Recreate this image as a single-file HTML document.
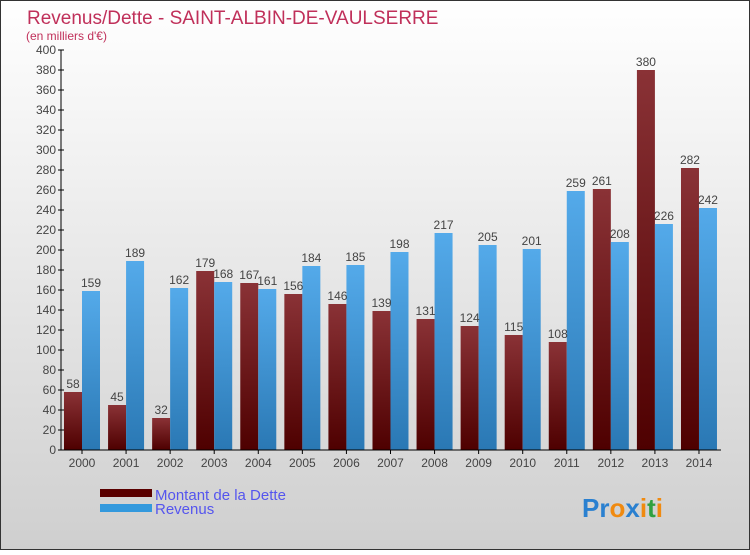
<!DOCTYPE html>
<html><head><meta charset="utf-8"><style>
body{margin:0;width:750px;height:550px;overflow:hidden;font-family:"Liberation Sans",sans-serif}
</style></head><body>
<svg width="750" height="550" xmlns="http://www.w3.org/2000/svg">
<defs>
<linearGradient id="bg" x1="0" y1="0" x2="0" y2="1"><stop offset="0" stop-color="#ffffff"/><stop offset="1" stop-color="#cfcfcf"/></linearGradient>
<linearGradient id="red" x1="0" y1="0" x2="0" y2="1"><stop offset="0" stop-color="#8a3236"/><stop offset="1" stop-color="#4e0000"/></linearGradient>
<linearGradient id="blue" x1="0" y1="0" x2="0" y2="1"><stop offset="0" stop-color="#54aaea"/><stop offset="1" stop-color="#2a78b4"/></linearGradient>
</defs>
<rect x="0.5" y="0.5" width="749" height="549" fill="url(#bg)" stroke="#333"/>
<text x="27" y="24" font-size="19" fill="#c0305a">Revenus/Dette - SAINT-ALBIN-DE-VAULSERRE</text>
<text x="26" y="40" font-size="12" fill="#c0305a">(en milliers d'€)</text>
<g id="grid"></g>
<g id="bars"></g>
<g id="axes"></g>
<g>
<rect x="100" y="489" width="52" height="8" fill="#5a0000"/>
<text x="155" y="500" font-size="15" fill="#5555ee">Montant de la Dette</text>
<rect x="100" y="504" width="52" height="8" fill="#3399dd"/>
<text x="155" y="514" font-size="15" fill="#5555ee">Revenus</text>
</g>
<text x="582" y="517" font-size="26" font-weight="bold"><tspan fill="#2a80d0">Pr</tspan><tspan fill="#f08a10">o</tspan><tspan fill="#2a80d0">x</tspan><tspan fill="#f08a10">i</tspan><tspan fill="#30a040">t</tspan><tspan fill="#f08a10">i</tspan></text>
</svg>
<script>
const years=["2000","2001","2002","2003","2004","2005","2006","2007","2008","2009","2010","2011","2012","2013","2014"];
const dette=[58,45,32,179,167,156,146,139,131,124,115,108,261,380,282];
const revenus=[159,189,162,168,161,184,185,198,217,205,201,259,208,226,242];
const yTicks=[0,20,40,60,80,100,120,140,160,180,200,220,240,260,280,300,320,340,360,380,400];
const NS="http://www.w3.org/2000/svg";
const y0=450,yMax=400,plotH=400;
function yS(v){return y0-v/yMax*plotH;}
function xC(i){return 82+i*44.07;}
function mk(t,a,p){const e=document.createElementNS(NS,t);for(const k in a)e.setAttribute(k,a[k]);p.appendChild(e);return e;}
const axes=document.getElementById('axes'),bars=document.getElementById('bars');
const ax=mk('line',{x1:61,y1:50,x2:61,y2:450,stroke:'#000'},axes);


const bx=mk('line',{x1:61,y1:450,x2:721,y2:450,stroke:'#000'},axes);


yTicks.forEach(v=>{
 const y=yS(v);
 mk('line',{x1:58,y1:y,x2:64,y2:y,stroke:'#000'},axes);
 const t=mk('text',{x:56,y:y+4,'font-size':12,fill:'#444','text-anchor':'end'},axes);t.textContent=v;
 
 
});
years.forEach((yr,i)=>{
 const c=xC(i);
 mk('line',{x1:c,y1:450,x2:c,y2:454,stroke:'#000'},axes);
 const t=mk('text',{x:c,y:467,'font-size':12,fill:'#444','text-anchor':'middle'},axes);t.textContent=yr;
 
 
 const r1=mk('rect',{x:c-18,y:yS(dette[i]),width:18,height:y0-yS(dette[i]),fill:'url(#red)'},bars);
 
 
 const r2=mk('rect',{x:c,y:yS(revenus[i]),width:18,height:y0-yS(revenus[i]),fill:'url(#blue)'},bars);
 
 
 const l1=mk('text',{x:c-9,y:yS(dette[i])-4,'font-size':12,fill:'#444','text-anchor':'middle'},bars);l1.textContent=dette[i];
 
 
 const l2=mk('text',{x:c+9,y:yS(revenus[i])-4,'font-size':12,fill:'#444','text-anchor':'middle'},bars);l2.textContent=revenus[i];
 
 
});
</script>
</body></html>
